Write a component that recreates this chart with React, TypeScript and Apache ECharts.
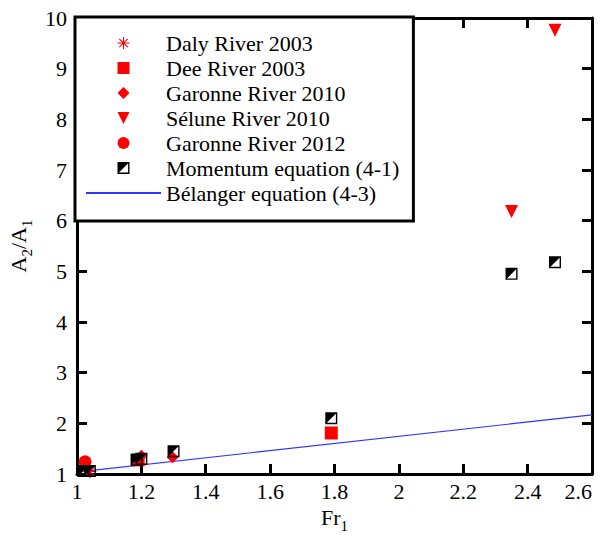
import React, { useEffect, useRef } from "react";
import * as echarts from "echarts";

const FONT = "Liberation Serif";

const xTicks = [1, 1.2, 1.4, 1.6, 1.8, 2, 2.2, 2.4, 2.6];
const yTicks = [1, 2, 3, 4, 5, 6, 7, 8, 9, 10];

const dalyRiver2003 = [[1.04, 1.05]];
const deeRiver2003 = [[1.19, 1.28], [1.79, 1.81]];
const garonne2010 = [[1.2, 1.36], [1.297, 1.33]];
const selune2010 = [[2.35, 6.18], [2.485, 9.76]];
const garonne2012 = [[1.025, 1.24]];
const momentum = [
  [1.02, 1.06], [1.04, 1.06], [1.185, 1.28], [1.2, 1.3], [1.3, 1.45],
  [1.79, 2.1], [2.35, 4.95], [2.485, 5.18],
];
const belanger = [[1.04, 1.065], [2.6, 2.167]];

const seriesNames = [
  "Daly River 2003",
  "Dee River 2003",
  "Garonne River 2010",
  "Sélune River 2010",
  "Garonne River 2012",
  "Momentum equation (4-1)",
  "Bélanger equation (4-3)",
];

const P_SQUARE = "path://M0 0 L12 0 L12 12 L0 12 Z";
const P_DIAMOND = "path://M6 0 L12 6 L6 12 L0 6 Z";
const P_TRIANGLE = "path://M0 0 L12 0 L6 12 Z";
const P_CIRCLE = "path://M0 6 A6 6 0 1 1 12 6 A6 6 0 1 1 0 6 Z";
const P_ASTER =
  "path://M9.2 1 L10.8 1 L10.8 19 L9.2 19 Z M1 9.2 L19 9.2 L19 10.8 L1 10.8 Z " +
  "M4.21 3.07 L16.93 15.79 L15.79 16.93 L3.07 4.21 Z M16.93 4.21 L4.21 16.93 L3.07 15.79 L15.79 3.07 Z";
const P_MOM =
  "path://M0 0 L12 0 L12 12 L0 12 Z M1.4 1.4 L1.4 10.6 L10.6 10.6 L10.6 1.4 Z M0 0 L12 0 L0 12 Z";

export default function App() {
  const ref = useRef<HTMLDivElement>(null);
  useEffect(() => {
    if (!ref.current) return;
    const chart = echarts.init(ref.current, undefined, { renderer: "svg" });
    const red = "#ff0000";
    const blue = "#3333ff";
    const axisCommon = {
      min: 1,
      axisLine: { show: true, lineStyle: { color: "#000", width: 3 } },
      axisTick: { show: true, inside: true, length: 10, lineStyle: { color: "#000", width: 3 } },
      splitLine: { show: false },
    };
    const labelStyle = { fontFamily: FONT, fontSize: 22, color: "#000" };
    const fmtX = (v: number) => String(+v.toFixed(1));
    const richSub = {
      a: { fontFamily: FONT, fontSize: 22, color: "#000", lineHeight: 22, verticalAlign: "top" },
      s: { fontFamily: FONT, fontSize: 15, color: "#000", lineHeight: 27, verticalAlign: "bottom" },
    };
    const scatter = (name: string, data: number[][], symbol: string, size: number, color: string) => ({
      type: "scatter",
      name,
      data,
      symbol,
      symbolSize: size,
      symbolKeepAspect: true,
      clip: false,
      itemStyle: { color, opacity: 1 },
      z: 3,
    });
    chart.setOption({
      animation: false,
      backgroundColor: "#fff",
      grid: {
        left: 77, right: 15, top: 18, bottom: 61,
        containLabel: false, outerBoundsMode: "none",
      },
      xAxis: [
        {
          type: "value",
          position: "bottom",
          ...axisCommon,
          max: xTicks[xTicks.length - 1],
          interval: 0.2,
          axisLabel: { ...labelStyle, margin: 6, formatter: fmtX, alignMaxLabel: "right" },
          name: "{a|Fr}{s|1}",
          nameLocation: "middle",
          nameGap: 31,
          nameTextStyle: { rich: richSub },
        },
        {
          type: "value",
          position: "top",
          ...axisCommon,
          max: xTicks[xTicks.length - 1],
          interval: 0.2,
          axisLabel: { show: false },
        },
      ],
      yAxis: [
        {
          type: "value",
          position: "left",
          ...axisCommon,
          max: yTicks[yTicks.length - 1],
          interval: 1,
          axisLabel: { ...labelStyle, margin: 10 },
          name: "{a|A}{s|2}{a|/A}{s|1}",
          nameLocation: "middle",
          nameGap: 42,
          nameRotate: 90,
          nameTextStyle: { rich: richSub },
        },
        {
          type: "value",
          position: "right",
          ...axisCommon,
          max: yTicks[yTicks.length - 1],
          interval: 1,
          axisLabel: { show: false },
        },
      ],
      legend: {
        orient: "vertical",
        left: 75,
        top: 17,
        itemWidth: 75,
        itemHeight: 12,
        itemGap: 3,
        padding: [15, 14, 17, 10],
        backgroundColor: "#fff",
        borderColor: "#000",
        borderWidth: 3,
        borderRadius: 0,
        textStyle: { fontFamily: FONT, fontSize: 22, color: "#000" },
        data: [
          { name: seriesNames[0], icon: P_ASTER },
          { name: seriesNames[1], icon: P_SQUARE },
          { name: seriesNames[2], icon: P_DIAMOND },
          { name: seriesNames[3], icon: P_TRIANGLE },
          { name: seriesNames[4], icon: P_CIRCLE },
          { name: seriesNames[5], icon: P_MOM },
          { name: seriesNames[6] },
        ],
        selectedMode: false,
      },
      series: [
        scatter(seriesNames[0], dalyRiver2003, P_ASTER, 13, red),
        scatter(seriesNames[1], deeRiver2003, P_SQUARE, 13, red),
        scatter(seriesNames[2], garonne2010, P_DIAMOND, 12, red),
        scatter(seriesNames[3], selune2010, P_TRIANGLE, 13, red),
        scatter(seriesNames[4], garonne2012, P_CIRCLE, 13, red),
        {
          type: "line",
          name: seriesNames[6],
          data: belanger,
          symbol: "circle",
          showSymbol: false,
          lineStyle: { color: blue, width: 1.2 },
          itemStyle: { color: "rgba(0,0,0,0)", borderWidth: 0 },
          z: 3,
        },
        { ...scatter(seriesNames[5], momentum, P_MOM, 12, "#000"), z: 4 },
      ],
    });
    return () => chart.dispose();
  }, []);
  return (
    <div
      ref={ref}
      style={{ position: "absolute", left: 0, top: 0, width: 607, height: 535 }}
    />
  );
}
